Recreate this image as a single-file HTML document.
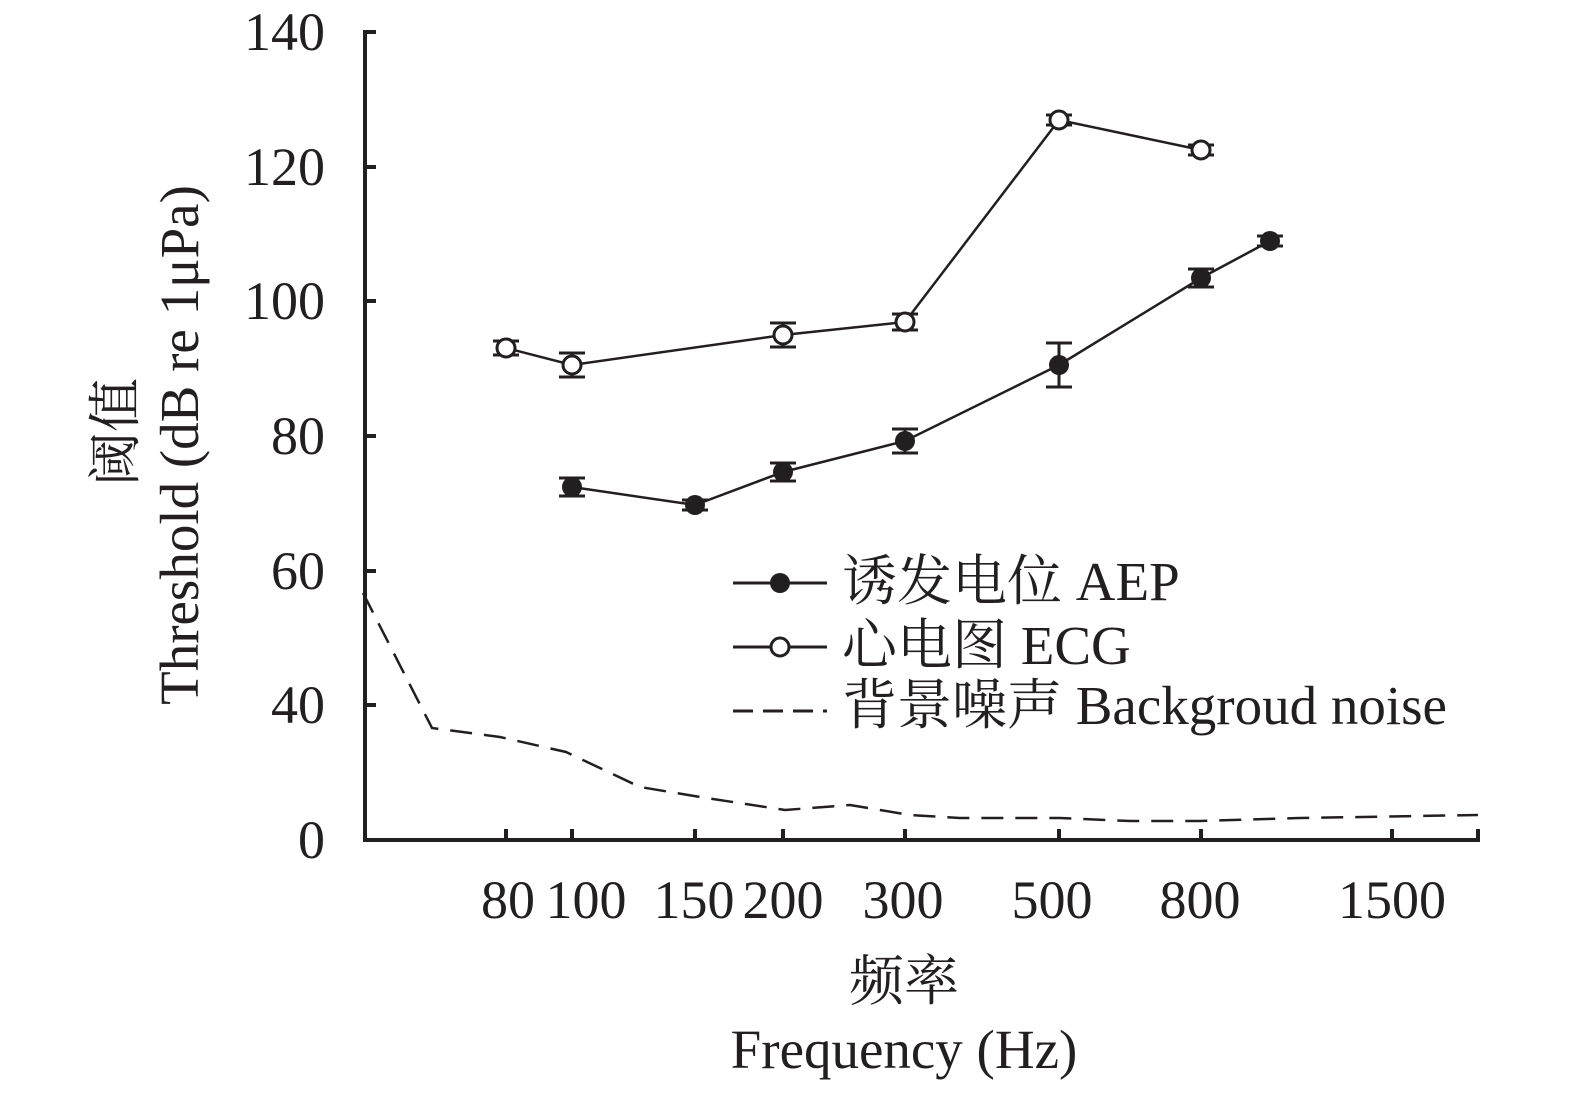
<!DOCTYPE html>
<html><head><meta charset="utf-8"><style>
html,body{margin:0;padding:0;background:#fff;}
svg text{font-family:"Liberation Serif","Noto Serif CJK SC",serif;fill:#231f20;}
</style></head><body>
<svg width="1575" height="1093" viewBox="0 0 1575 1093" xmlns="http://www.w3.org/2000/svg">
<g stroke="#231f20" stroke-width="4" fill="none">
<line x1="365" y1="30" x2="365" y2="842"/>
<line x1="363" y1="840" x2="1480" y2="840"/>
<line x1="365" y1="32" x2="376" y2="32"/>
<line x1="365" y1="167" x2="376" y2="167"/>
<line x1="365" y1="301" x2="376" y2="301"/>
<line x1="365" y1="436" x2="376" y2="436"/>
<line x1="365" y1="571" x2="376" y2="571"/>
<line x1="365" y1="705" x2="376" y2="705"/>
<line x1="506" y1="840" x2="506" y2="829"/>
<line x1="572" y1="840" x2="572" y2="829"/>
<line x1="695" y1="840" x2="695" y2="829"/>
<line x1="783" y1="840" x2="783" y2="829"/>
<line x1="905" y1="840" x2="905" y2="829"/>
<line x1="1059" y1="840" x2="1059" y2="829"/>
<line x1="1201" y1="840" x2="1201" y2="829"/>
<line x1="1392" y1="840" x2="1392" y2="829"/>
<line x1="1478" y1="840" x2="1478" y2="829"/>
</g>
<g font-size="54" text-anchor="end">
<text x="325" y="50">140</text>
<text x="325" y="185">120</text>
<text x="325" y="319">100</text>
<text x="325" y="454">80</text>
<text x="325" y="589">60</text>
<text x="325" y="723">40</text>
<text x="325" y="858">0</text>
</g>
<g font-size="54" text-anchor="middle">
<text x="508" y="918">80</text>
<text x="586" y="918">100</text>
<text x="694" y="918">150</text>
<text x="783" y="918">200</text>
<text x="903" y="918">300</text>
<text x="1052" y="918">500</text>
<text x="1200" y="918">800</text>
<text x="1392" y="918">1500</text>
</g>
<g font-size="55" text-anchor="middle">
<text x="904" y="1000">频率</text>
<text x="904" y="1068">Frequency (Hz)</text>
</g>
<text font-size="54" text-anchor="middle" transform="translate(134,432) rotate(-90)">阈值</text>
<text font-size="55" text-anchor="middle" transform="translate(198,445) rotate(-90)">Threshold (dB re 1μPa)</text>
<g stroke="#231f20" stroke-width="2.5" fill="none">
<polyline points="506,348 572,365 783,335 905,322 1059,120 1201,150"/>
<polyline points="572,487 695,505 783,472 905,441 1059,365 1201,278 1270,241"/>
<polyline stroke-dasharray="22,12" points="363,593 432,728 500,737 566,752 640,787 700,797 785,810 850,805 910,815 960,818 1060,818 1130,821 1200,821 1300,818 1478,815"/>
</g>
<g stroke="#231f20" stroke-width="3">
<path d="M506,341V355M493,341H519M493,355H519"/>
<path d="M572,353V377M559,353H585M559,377H585"/>
<path d="M783,323V347M770,323H796M770,347H796"/>
<path d="M905,314V330M892,314H918M892,330H918"/>
<path d="M1059,115V125M1046,115H1072M1046,125H1072"/>
<path d="M1201,145V155M1188,145H1214M1188,155H1214"/>
<path d="M572,478V496M559,478H585M559,496H585"/>
<path d="M695,500V510M682,500H708M682,510H708"/>
<path d="M783,463V481M770,463H796M770,481H796"/>
<path d="M905,429V453M892,429H918M892,453H918"/>
<path d="M1059,343V387M1046,343H1072M1046,387H1072"/>
<path d="M1201,269V287M1188,269H1214M1188,287H1214"/>
<path d="M1270,236V246M1257,236H1283M1257,246H1283"/>
</g>
<g stroke="#231f20" stroke-width="3" fill="#fff">
<circle cx="506" cy="348" r="9"/><circle cx="572" cy="365" r="9"/><circle cx="783" cy="335" r="9"/>
<circle cx="905" cy="322" r="9"/><circle cx="1059" cy="120" r="9"/><circle cx="1201" cy="150" r="9"/>
</g>
<g fill="#231f20">
<circle cx="572" cy="487" r="10"/><circle cx="695" cy="505" r="10"/><circle cx="783" cy="472" r="10"/>
<circle cx="905" cy="441" r="10"/><circle cx="1059" cy="365" r="10"/><circle cx="1201" cy="278" r="10"/><circle cx="1270" cy="241" r="10"/>
</g>
<g stroke="#231f20" stroke-width="3">
<line x1="733" y1="583" x2="827" y2="583"/>
<line x1="733" y1="647" x2="827" y2="647"/>
<line x1="733" y1="711" x2="827" y2="711" stroke-dasharray="20,10"/>
</g>
<circle cx="780" cy="583" r="10" fill="#231f20"/>
<circle cx="780" cy="647" r="9" fill="#fff" stroke="#231f20" stroke-width="3"/>
<g font-size="55">
<text x="842" y="600">诱发电位 AEP</text>
<text x="842" y="664">心电图 ECG</text>
<text x="842" y="724">背景噪声 Backgroud noise</text>
</g>
</svg>
</body></html>
